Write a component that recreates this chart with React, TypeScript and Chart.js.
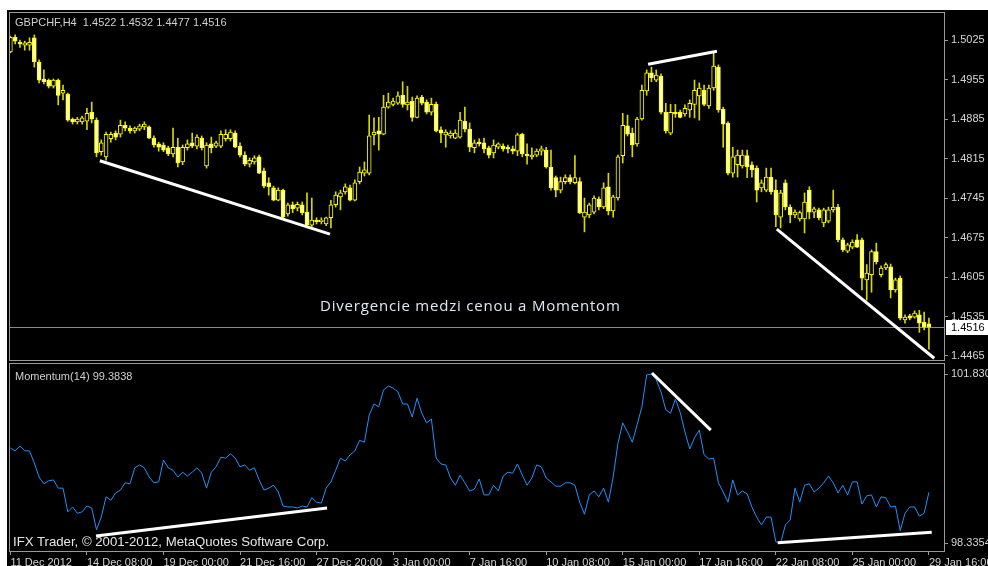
import React, { useEffect, useRef } from 'react';
import { Chart, registerables } from 'chart.js';

Chart.register(...registerables);

const SYMBOL = 'GBPCHF,H4';
const INDICATOR = 'Momentum(14)';
const CAPTION = 'Divergencie medzi cenou a Momentom';
const COPYRIGHT = 'IFX Trader, \u00A9 2001-2012, MetaQuotes Software Corp.';

const OPEN = [1.5004,
  1.5030, 1.5021, 1.5016, 1.5016, 1.5029, 1.4986, 1.4956, 1.4954, 1.4943, 1.4954,
  1.4931, 1.4929, 1.4885, 1.4880, 1.4880, 1.4881, 1.4897, 1.4883, 1.4827, 1.4818,
  1.4850, 1.4860, 1.4858, 1.4874, 1.4869, 1.4864, 1.4867, 1.4871, 1.4871, 1.4851,
  1.4841, 1.4839, 1.4834, 1.4823, 1.4835, 1.4809, 1.4834, 1.4843, 1.4837, 1.4851,
  1.4802, 1.4841, 1.4837, 1.4837, 1.4850, 1.4850, 1.4860, 1.4837, 1.4821, 1.4805,
  1.4809, 1.4818, 1.4793, 1.4772, 1.4763, 1.4741, 1.4759, 1.4717, 1.4733, 1.4727,
  1.4733, 1.4720, 1.4697, 1.4706, 1.4703, 1.4699, 1.4710, 1.4733, 1.4747, 1.4756,
  1.4763, 1.4741, 1.4774, 1.4789, 1.4789, 1.4857, 1.4864, 1.4858, 1.4906, 1.4911,
  1.4913, 1.4927, 1.4910, 1.4917, 1.4888, 1.4924, 1.4915, 1.4897, 1.4911, 1.4866,
  1.4857, 1.4855, 1.4851, 1.4853, 1.4881, 1.4867, 1.4834, 1.4844, 1.4843, 1.4834,
  1.4825, 1.4835, 1.4837, 1.4835, 1.4832, 1.4828, 1.4858, 1.4823, 1.4818, 1.4821,
  1.4828, 1.4830, 1.4800, 1.4781, 1.4759, 1.4774, 1.4781, 1.4772, 1.4774, 1.4711,
  1.4715, 1.4720, 1.4743, 1.4729, 1.4765, 1.4722, 1.4745, 1.4820, 1.4873, 1.4860,
  1.4841, 1.4885, 1.4935, 1.4967, 1.4954, 1.4961, 1.4897, 1.4860, 1.4897, 1.4897,
  1.4894, 1.4901, 1.4911, 1.4926, 1.4936, 1.4908, 1.4940, 1.4977, 1.4902, 1.4878,
  1.4789, 1.4804, 1.4802, 1.4820, 1.4804, 1.4798, 1.4763, 1.4759, 1.4782, 1.4759,
  1.4711, 1.4772, 1.4729, 1.4715, 1.4708, 1.4708, 1.4759, 1.4720, 1.4724, 1.4701,
  1.4704, 1.4724, 1.4729, 1.4671, 1.4651, 1.4658, 1.4671, 1.4671, 1.4600, 1.4609,
  1.4650, 1.4609, 1.4621, 1.4623, 1.4582, 1.4603, 1.4529, 1.4536, 1.4534, 1.4538,
  1.4525, 1.4522];

const HIGH = [1.5032,
  1.5034, 1.5025, 1.5023, 1.5029, 1.5034, 1.4990, 1.4972, 1.4956, 1.4956, 1.4956,
  1.4945, 1.4931, 1.4887, 1.4888, 1.4890, 1.4904, 1.4915, 1.4887, 1.4848, 1.4862,
  1.4862, 1.4864, 1.4883, 1.4880, 1.4873, 1.4871, 1.4876, 1.4880, 1.4873, 1.4855,
  1.4844, 1.4843, 1.4837, 1.4869, 1.4851, 1.4839, 1.4848, 1.4860, 1.4857, 1.4855,
  1.4843, 1.4853, 1.4846, 1.4864, 1.4866, 1.4866, 1.4864, 1.4843, 1.4827, 1.4816,
  1.4820, 1.4821, 1.4798, 1.4781, 1.4766, 1.4763, 1.4761, 1.4736, 1.4738, 1.4738,
  1.4738, 1.4754, 1.4745, 1.4710, 1.4710, 1.4711, 1.4741, 1.4756, 1.4759, 1.4770,
  1.4768, 1.4777, 1.4800, 1.4809, 1.4892, 1.4887, 1.4888, 1.4927, 1.4931, 1.4922,
  1.4933, 1.4951, 1.4943, 1.4924, 1.4926, 1.4927, 1.4919, 1.4922, 1.4915, 1.4871,
  1.4866, 1.4864, 1.4866, 1.4897, 1.4906, 1.4878, 1.4848, 1.4850, 1.4851, 1.4837,
  1.4848, 1.4843, 1.4841, 1.4839, 1.4837, 1.4860, 1.4860, 1.4841, 1.4834, 1.4832,
  1.4837, 1.4835, 1.4830, 1.4784, 1.4782, 1.4786, 1.4786, 1.4820, 1.4781, 1.4745,
  1.4736, 1.4749, 1.4747, 1.4772, 1.4789, 1.4750, 1.4821, 1.4895, 1.4892, 1.4869,
  1.4888, 1.4945, 1.4972, 1.4977, 1.4972, 1.4965, 1.4913, 1.4911, 1.4911, 1.4901,
  1.4910, 1.4919, 1.4954, 1.4949, 1.4945, 1.4945, 1.5002, 1.4981, 1.4906, 1.4880,
  1.4835, 1.4830, 1.4830, 1.4830, 1.4809, 1.4802, 1.4777, 1.4798, 1.4798, 1.4777,
  1.4759, 1.4777, 1.4733, 1.4724, 1.4722, 1.4754, 1.4765, 1.4729, 1.4727, 1.4727,
  1.4729, 1.4759, 1.4734, 1.4674, 1.4665, 1.4671, 1.4680, 1.4674, 1.4627, 1.4653,
  1.4665, 1.4625, 1.4630, 1.4628, 1.4603, 1.4607, 1.4538, 1.4539, 1.4545, 1.4546,
  1.4543, 1.4532];

const LOW = [1.5002,
  1.5018, 1.5012, 1.5007, 1.5007, 1.4977, 1.4949, 1.4947, 1.4940, 1.4940, 1.4910,
  1.4919, 1.4881, 1.4876, 1.4876, 1.4876, 1.4866, 1.4878, 1.4818, 1.4821, 1.4812,
  1.4844, 1.4848, 1.4853, 1.4864, 1.4860, 1.4860, 1.4864, 1.4866, 1.4850, 1.4835,
  1.4828, 1.4827, 1.4820, 1.4818, 1.4800, 1.4804, 1.4830, 1.4834, 1.4832, 1.4830,
  1.4798, 1.4825, 1.4834, 1.4834, 1.4846, 1.4846, 1.4834, 1.4818, 1.4802, 1.4800,
  1.4805, 1.4788, 1.4763, 1.4750, 1.4740, 1.4740, 1.4710, 1.4713, 1.4719, 1.4722,
  1.4715, 1.4696, 1.4694, 1.4699, 1.4699, 1.4696, 1.4692, 1.4729, 1.4724, 1.4752,
  1.4740, 1.4740, 1.4770, 1.4784, 1.4786, 1.4839, 1.4830, 1.4857, 1.4904, 1.4908,
  1.4911, 1.4906, 1.4901, 1.4881, 1.4887, 1.4910, 1.4894, 1.4892, 1.4862, 1.4843,
  1.4835, 1.4851, 1.4850, 1.4851, 1.4862, 1.4827, 1.4825, 1.4837, 1.4825, 1.4816,
  1.4816, 1.4832, 1.4828, 1.4825, 1.4823, 1.4820, 1.4818, 1.4805, 1.4814, 1.4818,
  1.4821, 1.4798, 1.4759, 1.4747, 1.4754, 1.4770, 1.4770, 1.4770, 1.4717, 1.4685,
  1.4710, 1.4717, 1.4724, 1.4726, 1.4715, 1.4711, 1.4741, 1.4807, 1.4855, 1.4818,
  1.4837, 1.4883, 1.4927, 1.4951, 1.4951, 1.4894, 1.4860, 1.4857, 1.4888, 1.4887,
  1.4890, 1.4888, 1.4887, 1.4883, 1.4908, 1.4904, 1.4936, 1.4897, 1.4835, 1.4786,
  1.4782, 1.4782, 1.4798, 1.4781, 1.4782, 1.4738, 1.4756, 1.4756, 1.4752, 1.4694,
  1.4692, 1.4724, 1.4701, 1.4710, 1.4704, 1.4683, 1.4708, 1.4710, 1.4706, 1.4694,
  1.4701, 1.4720, 1.4667, 1.4650, 1.4648, 1.4655, 1.4657, 1.4582, 1.4564, 1.4578,
  1.4628, 1.4605, 1.4618, 1.4568, 1.4578, 1.4529, 1.4523, 1.4529, 1.4532, 1.4507,
  1.4511, 1.4477];

const CLOSE = [1.5030,
  1.5023, 1.5018, 1.5020, 1.5021, 1.4986, 1.4954, 1.4951, 1.4943, 1.4954, 1.4927,
  1.4936, 1.4883, 1.4880, 1.4885, 1.4887, 1.4895, 1.4885, 1.4825, 1.4843, 1.4858,
  1.4858, 1.4853, 1.4874, 1.4869, 1.4864, 1.4869, 1.4873, 1.4876, 1.4851, 1.4839,
  1.4835, 1.4830, 1.4823, 1.4835, 1.4807, 1.4835, 1.4841, 1.4837, 1.4853, 1.4834,
  1.4839, 1.4834, 1.4843, 1.4858, 1.4858, 1.4862, 1.4835, 1.4821, 1.4805, 1.4812,
  1.4816, 1.4789, 1.4766, 1.4765, 1.4741, 1.4759, 1.4711, 1.4733, 1.4726, 1.4734,
  1.4719, 1.4697, 1.4706, 1.4703, 1.4706, 1.4710, 1.4733, 1.4750, 1.4754, 1.4765,
  1.4741, 1.4772, 1.4791, 1.4795, 1.4855, 1.4862, 1.4858, 1.4906, 1.4915, 1.4917,
  1.4926, 1.4911, 1.4915, 1.4888, 1.4922, 1.4913, 1.4897, 1.4911, 1.4864, 1.4860,
  1.4862, 1.4860, 1.4860, 1.4883, 1.4867, 1.4835, 1.4843, 1.4841, 1.4832, 1.4821,
  1.4839, 1.4841, 1.4832, 1.4832, 1.4828, 1.4857, 1.4823, 1.4820, 1.4821, 1.4828,
  1.4832, 1.4800, 1.4763, 1.4759, 1.4774, 1.4781, 1.4774, 1.4781, 1.4719, 1.4720,
  1.4733, 1.4745, 1.4729, 1.4763, 1.4722, 1.4747, 1.4818, 1.4874, 1.4858, 1.4839,
  1.4885, 1.4936, 1.4967, 1.4958, 1.4963, 1.4897, 1.4864, 1.4897, 1.4894, 1.4888,
  1.4904, 1.4913, 1.4936, 1.4940, 1.4911, 1.4940, 1.4979, 1.4901, 1.4876, 1.4789,
  1.4818, 1.4821, 1.4821, 1.4800, 1.4795, 1.4759, 1.4772, 1.4782, 1.4756, 1.4715,
  1.4754, 1.4729, 1.4715, 1.4720, 1.4719, 1.4738, 1.4720, 1.4726, 1.4710, 1.4724,
  1.4724, 1.4729, 1.4671, 1.4653, 1.4662, 1.4667, 1.4658, 1.4603, 1.4612, 1.4650,
  1.4632, 1.4621, 1.4627, 1.4582, 1.4600, 1.4532, 1.4534, 1.4532, 1.4541, 1.4523,
  1.4516, 1.4516];

const MOMENTUM = [100.30,
  100.24, 100.34, 100.24, 100.24, 99.99, 99.70, 99.56, 99.62, 99.64, 99.47,
  99.47, 98.98, 99.08, 98.95, 98.98, 99.10, 99.06, 98.61, 98.87, 99.29,
  99.22, 99.37, 99.43, 99.58, 99.56, 99.89, 99.95, 99.89, 99.70, 99.58,
  99.60, 100.05, 99.89, 99.84, 99.70, 99.80, 99.72, 99.80, 99.89, 99.78,
  99.47, 99.80, 99.91, 100.11, 100.09, 100.18, 100.09, 99.91, 99.95, 99.84,
  99.89, 99.64, 99.43, 99.47, 99.53, 99.39, 99.10, 99.08, 99.08, 99.06,
  99.10, 99.08, 99.27, 99.18, 99.16, 99.47, 99.60, 99.84, 100.09, 100.03,
  100.16, 100.24, 100.46, 100.42, 100.98, 101.21, 101.15, 101.50, 101.58, 101.54,
  101.46, 101.21, 101.21, 100.94, 101.33, 101.02, 100.82, 100.90, 100.09, 99.97,
  99.95, 99.68, 99.53, 99.74, 99.58, 99.41, 99.45, 99.66, 99.33, 99.33,
  99.53, 99.41, 99.72, 99.80, 99.78, 99.97, 99.74, 99.53, 99.68, 99.95,
  99.91, 99.68, 99.60, 99.51, 99.51, 99.58, 99.58, 99.53, 99.18, 98.93,
  99.33, 99.41, 99.29, 99.47, 99.18, 99.70, 100.40, 100.82, 100.63, 100.42,
  100.78, 101.15, 101.81, 101.83, 101.71, 101.46, 101.09, 101.02, 101.31, 101.04,
  100.63, 100.28, 100.51, 100.67, 100.16, 100.07, 100.09, 99.58, 99.39, 99.18,
  99.64, 99.33, 99.41, 99.35, 99.08, 98.87, 98.71, 98.87, 98.87, 98.36,
  98.3354, 98.71, 98.81, 99.47, 99.18, 99.53, 99.56, 99.39, 99.47, 99.58,
  99.72, 99.58, 99.37, 99.53, 99.33, 99.60, 99.60, 99.14, 99.31, 99.33,
  99.08, 99.29, 99.27, 99.08, 99.10, 98.59, 98.95, 99.08, 99.08, 98.89,
  98.95, 99.3838];

const TIME_LABELS = ['11 Dec 2012', '14 Dec 08:00', '19 Dec 00:00', '21 Dec 16:00', '27 Dec 20:00',
  '3 Jan 00:00', '7 Jan 16:00', '10 Jan 08:00', '15 Jan 00:00', '17 Jan 16:00',
  '22 Jan 08:00', '25 Jan 00:00', '29 Jan 16:00'];
const TIME_LABEL_BARS = [0, 16, 32, 48, 64, 80, 96, 112, 128, 144, 160, 176, 192];

const PRICE_TICKS = [1.4465, 1.4535, 1.4605, 1.4675, 1.4745, 1.4815, 1.4885, 1.4955, 1.5025];
const MOM_TICKS = [98.3354, 101.83];
const MOM_TICK_LABELS = ['98.3354', '101.830'];

const PRICE_TRENDLINES = [
  [[18.7, 1.4811], [66.8, 1.4681]],
  [[133.3, 1.4982], [147.7, 1.5005]],
  [[160.2, 1.4690], [193.1, 1.4461]],
];
const MOM_TRENDLINES = [
  [[17.9, 98.48], [66.2, 99.06]],
  [[134.1, 101.85], [146.4, 100.67]],
  [[160.4, 98.34], [192.6, 98.56]],
];

const X_MIN = -0.08;
const X_MAX = 195.15;
const PRICE_MIN = 1.44579;
const PRICE_MAX = 1.50729;
const MOM_MIN = 98.17;
const MOM_MAX = 102.037;

const AXIS_FONT = { family: "'Liberation Sans', Arial, sans-serif", size: 11 };
const AXIS_COLOR = '#d4d4d4';
const FRAME_COLOR = '#9a9a9a';

const framePlugin = {
  id: 'frame',
  afterDraw(chart: any) {
    const { ctx, chartArea: a } = chart;
    ctx.save();
    ctx.strokeStyle = FRAME_COLOR;
    ctx.lineWidth = 1;
    ctx.strokeRect(a.left - 0.5, a.top - 0.5, a.right - a.left + 1, a.bottom - a.top + 1);
    ctx.restore();
  },
};

const lastClose = CLOSE[CLOSE.length - 1];

const priceLinePlugin = {
  id: 'priceLine',
  beforeDatasetsDraw(chart: any) {
    const { ctx, chartArea: a } = chart;
    const y = Math.round(chart.scales.y.getPixelForValue(lastClose)) + 0.5;
    ctx.save();
    ctx.strokeStyle = '#7f8a9c';
    ctx.lineWidth = 1;
    ctx.beginPath();
    ctx.moveTo(a.left, y);
    ctx.lineTo(a.right, y);
    ctx.stroke();
    ctx.restore();
  },
  afterDraw(chart: any) {
    const { ctx, chartArea: a } = chart;
    const y = Math.round(chart.scales.y.getPixelForValue(lastClose));
    ctx.save();
    ctx.fillStyle = '#ffffff';
    ctx.fillRect(a.right + 2, y - 7, 44, 15);
    ctx.fillStyle = '#000000';
    ctx.font = "11px 'Liberation Sans', Arial, sans-serif";
    ctx.textBaseline = 'middle';
    ctx.textAlign = 'left';
    ctx.fillText(lastClose.toFixed(4), a.right + 7, y + 1);
    ctx.restore();
  },
};

function trendDatasets(lines: number[][][]) {
  return lines.map((ln) => ({
    type: 'line' as const,
    data: ln.map(([x, y]) => ({ x, y })),
    borderColor: '#ffffff',
    borderWidth: 3,
    pointRadius: 0,
    borderCapStyle: 'butt' as const,
    order: 1,
  }));
}

export default function App() {
  const topRef = useRef<HTMLCanvasElement>(null);
  const botRef = useRef<HTMLCanvasElement>(null);

  useEffect(() => {
    const idx = OPEN.map((_, i) => i);
    const top = new Chart(topRef.current as HTMLCanvasElement, {
      type: 'bar',
      data: {
        datasets: [
          {
            type: 'bar',
            data: idx.map((i) => ({ x: i, y: [LOW[i], HIGH[i]] })) as any,
            backgroundColor: '#d6d600',
            borderWidth: 0,
            barThickness: 1,
            grouped: false,
            order: 3,
          } as any,
          {
            type: 'bar',
            data: idx.map((i) => ({ x: i, y: [OPEN[i], CLOSE[i]] })) as any,
            backgroundColor: idx.map((i) => (CLOSE[i] > OPEN[i] ? '#000000' : '#ffffa8')),
            borderColor: '#ffff00',
            borderWidth: 1,
            borderSkipped: false,
            barThickness: 4,
            grouped: false,
            order: 2,
          } as any,
          ...(trendDatasets(PRICE_TRENDLINES) as any[]),
        ],
      },
      options: {
        animation: false,
        responsive: false,
        devicePixelRatio: 1,
        events: [],
        layout: { padding: { left: 3, top: 3, right: 0, bottom: 3 } },
        plugins: { legend: { display: false }, tooltip: { enabled: false } },
        scales: {
          x: { type: 'linear', min: X_MIN, max: X_MAX, display: false, offset: false },
          y: {
            type: 'linear',
            position: 'right',
            min: PRICE_MIN,
            max: PRICE_MAX,
            afterBuildTicks: (s: any) => {
              s.ticks = PRICE_TICKS.map((v) => ({ value: v }));
            },
            afterFit: (s: any) => {
              s.width = 44;
              s.paddingTop = 0;
              s.paddingBottom = 0;
            },
            border: { display: false },
            grid: { drawOnChartArea: false, drawTicks: true, tickLength: 4, color: FRAME_COLOR },
            ticks: {
              color: AXIS_COLOR,
              font: AXIS_FONT,
              padding: 3,
              autoSkip: false,
              callback: (v: any) => Number(v).toFixed(4),
            },
          },
        },
      } as any,
      plugins: [priceLinePlugin, framePlugin],
    });

    const bot = new Chart(botRef.current as HTMLCanvasElement, {
      type: 'line',
      data: {
        datasets: [
          {
            data: MOMENTUM.map((v, i) => ({ x: i, y: v })),
            borderColor: '#1e90ff',
            borderWidth: 1,
            pointRadius: 0,
            tension: 0,
            order: 2,
          },
          ...(trendDatasets(MOM_TRENDLINES) as any[]),
        ],
      },
      options: {
        animation: false,
        responsive: false,
        devicePixelRatio: 1,
        events: [],
        layout: { padding: { left: 3, top: 1, right: 0, bottom: 0 } },
        plugins: { legend: { display: false }, tooltip: { enabled: false } },
        scales: {
          x: {
            type: 'linear',
            min: X_MIN,
            max: X_MAX,
            offset: false,
            afterBuildTicks: (s: any) => {
              s.ticks = TIME_LABEL_BARS.map((v) => ({ value: v }));
            },
            afterFit: (s: any) => {
              s.height = 15;
              s.paddingLeft = 0;
              s.paddingRight = 0;
            },
            border: { display: false },
            grid: { drawOnChartArea: false, drawTicks: true, tickLength: 4, color: FRAME_COLOR },
            ticks: {
              color: AXIS_COLOR,
              font: AXIS_FONT,
              align: 'start',
              maxRotation: 0,
              minRotation: 0,
              autoSkip: false,
              padding: 1,
              callback: (v: any) => TIME_LABELS[TIME_LABEL_BARS.indexOf(Number(v))],
            },
          },
          y: {
            type: 'linear',
            position: 'right',
            min: MOM_MIN,
            max: MOM_MAX,
            afterBuildTicks: (s: any) => {
              s.ticks = MOM_TICKS.map((v) => ({ value: v }));
            },
            afterFit: (s: any) => {
              s.width = 44;
              s.paddingTop = 0;
              s.paddingBottom = 0;
            },
            border: { display: false },
            grid: { drawOnChartArea: false, drawTicks: true, tickLength: 4, color: FRAME_COLOR },
            ticks: {
              color: AXIS_COLOR,
              font: AXIS_FONT,
              padding: 3,
              autoSkip: false,
              callback: (v: any) => MOM_TICK_LABELS[MOM_TICKS.indexOf(Number(v))],
            },
          },
        },
      } as any,
      plugins: [framePlugin],
    });

    return () => {
      top.destroy();
      bot.destroy();
    };
  }, []);

  const ohlcTitle = `${SYMBOL}  ${OPEN[OPEN.length - 1].toFixed(4)} ${HIGH[HIGH.length - 1].toFixed(4)} ${LOW[LOW.length - 1].toFixed(4)} ${CLOSE[CLOSE.length - 1].toFixed(4)}`;
  const momTitle = `${INDICATOR} ${MOMENTUM[MOMENTUM.length - 1].toFixed(4)}`;

  const small: React.CSSProperties = {
    position: 'absolute',
    fontFamily: "'Liberation Sans', Arial, sans-serif",
    fontSize: 11,
    lineHeight: '11px',
    color: '#cfcfcf',
    whiteSpace: 'pre',
    pointerEvents: 'none',
  };

  return (
    <div style={{ position: 'fixed', left: 0, top: 0, width: 988, height: 566, background: '#ffffff', overflow: 'hidden' }}>
      <div style={{ position: 'absolute', left: 7, top: 10, width: 981, height: 556, background: '#000000' }} />
      <canvas ref={topRef} width={981} height={353} style={{ position: 'absolute', left: 7, top: 10, width: 981, height: 353 }} />
      <canvas ref={botRef} width={981} height={203} style={{ position: 'absolute', left: 7, top: 363, width: 981, height: 203 }} />
      <div style={{ ...small, left: 15, top: 17 }}>{ohlcTitle}</div>
      <div style={{ ...small, left: 15, top: 371 }}>{momTitle}</div>
      <div style={{ ...small, left: 13, top: 535, fontSize: 13.2, lineHeight: '13.2px', color: '#e6e6e6' }}>{COPYRIGHT}</div>
      <div
        style={{
          position: 'absolute',
          left: 320,
          top: 298,
          fontFamily: "'Open Sans', sans-serif",
          fontSize: 15,
          lineHeight: '15px',
          letterSpacing: '0.8px',
          color: '#dfe8f5',
          whiteSpace: 'pre',
          pointerEvents: 'none',
        }}
      >
        {CAPTION}
      </div>
    </div>
  );
}
